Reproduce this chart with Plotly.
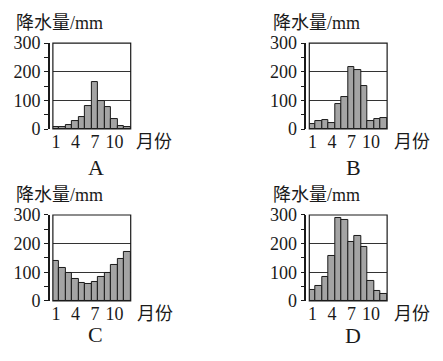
import plotly.graph_objects as go

# ---- data ----
months = list(range(1, 13))
rain_A = [7, 8, 15, 27, 42, 80, 163, 99, 75, 35, 12, 8]
rain_B = [19, 27, 33, 22, 88, 111, 215, 207, 150, 27, 34, 40]
rain_C = [138, 116, 97, 76, 62, 59, 65, 82, 98, 126, 145, 171]
rain_D = [38, 53, 83, 158, 289, 282, 207, 228, 190, 71, 35, 24]
panel_labels = ["A", "B", "C", "D"]
y_tickvals = [0, 100, 200, 300]
x_tickvals = [1, 4, 7, 10]
y_title = "降水量/mm"
x_title = "月份"

series = [rain_A, rain_B, rain_C, rain_D]

W, H = 443, 361
# plot boxes in pixels: (left, top, right, bottom)
boxes = [(52, 35, 130, 126), (309, 35, 387, 126),
         (52, 217, 130, 308), (309, 217, 387, 308)]
# title positions (left x, center y), x-title positions, panel letter positions
title_pos = [(13, 14), (271, 14), (13, 196), (271, 196)]
xt_pos = [(133, 140), (392, 140), (134, 322), (392, 322)]
letter_pos = [(95, 167), (353, 167), (95, 344), (353, 345)]

FONT = "Liberation Serif, Times New Roman, Noto Sans CJK SC"
INK = "#1a1a1a"

fig = go.Figure()
layout = dict(width=W, height=H, margin=dict(l=0, r=0, t=0, b=0),
              paper_bgcolor="white", plot_bgcolor="white",
              bargap=0, showlegend=False, shapes=[], annotations=[])

def px(x):
    return x / W

def py(y):
    return 1 - y / H

for i, vals in enumerate(series):
    l, t, r, b = boxes[i]
    xn = "x" if i == 0 else f"x{i+1}"
    yn = "y" if i == 0 else f"y{i+1}"
    xk = "xaxis" if i == 0 else f"xaxis{i+1}"
    yk = "yaxis" if i == 0 else f"yaxis{i+1}"
    fig.add_trace(go.Bar(
        x=months, y=vals, xaxis=xn, yaxis=yn,
        marker=dict(color="#a4a4a4", line=dict(color=INK, width=1)),
        width=1.0,
    ))
    layout[xk] = dict(domain=[px(l), px(r)], anchor=yn, range=[0.5, 12.5],
                      tickvals=x_tickvals, ticks="", showline=False,
                      showgrid=False, zeroline=False,
                      tickfont=dict(family=FONT, size=18, color=INK),
                      fixedrange=True)
    layout[yk] = dict(domain=[py(b), py(t)], anchor="free",
                      position=px(l - 4), range=[0, 300],
                      tickvals=y_tickvals, ticks="outside", ticklen=4,
                      tickwidth=1, tickcolor=INK,
                      minor=dict(tickvals=[50, 150, 250], ticks="outside",
                                 ticklen=4, tickwidth=1, tickcolor=INK,
                                 showgrid=False),
                      showline=True, linecolor=INK, linewidth=1.5,
                      showgrid=True, gridcolor="#333333", gridwidth=1,
                      zeroline=False,
                      tickfont=dict(family=FONT, size=18, color=INK),
                      fixedrange=True)
    layout["shapes"].append(dict(type="rect", xref=f"{xn} domain",
                                 yref=f"{yn} domain", x0=0, x1=1, y0=0, y1=1,
                                 line=dict(color=INK, width=1.2),
                                 layer="above"))
    tx, ty = title_pos[i]
    layout["annotations"].append(dict(text=y_title, x=px(tx), y=py(ty),
                                      xref="paper", yref="paper",
                                      xanchor="left", yanchor="middle",
                                      showarrow=False,
                                      font=dict(family=FONT, size=18, color=INK)))
    mx, my = xt_pos[i]
    layout["annotations"].append(dict(text=x_title, x=px(mx), y=py(my),
                                      xref="paper", yref="paper",
                                      xanchor="left", yanchor="middle",
                                      showarrow=False,
                                      font=dict(family=FONT, size=18, color=INK)))
    lx, ly = letter_pos[i]
    layout["annotations"].append(dict(text=panel_labels[i], x=px(lx), y=py(ly),
                                      xref="paper", yref="paper",
                                      xanchor="center", yanchor="middle",
                                      showarrow=False,
                                      font=dict(family=FONT, size=22, color=INK)))

fig.update_layout(**layout)
fig.write_html("out.html", config={"displayModeBar": False},
               post_script="document.body.style.margin='0';document.body.style.padding='0';")
